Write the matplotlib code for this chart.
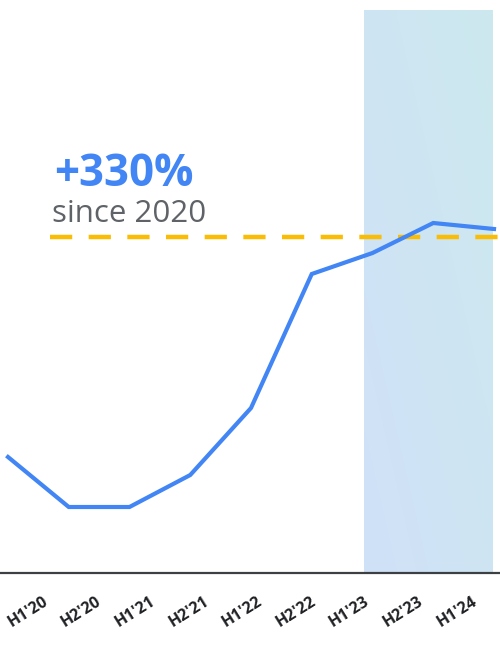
import numpy as np
import matplotlib.pyplot as plt
from matplotlib.colors import to_rgb

plt.rcParams['font.family'] = ['Open Sans', 'DejaVu Sans']

# half-year periods and the index value for each one
periods = ["H1'20", "H2'20", "H1'21", "H2'21", "H1'22", "H2'22", "H1'23", "H2'23", "H1'24"]
values = [116, 66, 66, 98, 165, 299, 320, 350, 344]
reference_level = 336          # dashed "+330% since 2020" level
highlight = (5.86, 7.98)       # shaded range (period index)
highlight_top = 563

blue = '#4285f4'
yellow = '#fbbc04'

fig = plt.figure(figsize=(5, 6.45), dpi=100)
ax = fig.add_axes([0, 72 / 645, 1, 573 / 645])

x = np.arange(len(values))
ax.set_xlim(-8 / 60.75, 492 / 60.75)
ax.set_ylim(0, 573)

# diagonal gradient for the highlighted range: teal top-right, blue bottom-left
c_tr = np.array(to_rgb('#cce9ee'))
c_bl = np.array(to_rgb('#d0e1f8'))
gx, gy = np.meshgrid(np.linspace(0, 1, 64), np.linspace(0, 1, 64))
t = ((1 - gx) + gy) / 2
grad = c_tr * (1 - t[..., None]) + c_bl * t[..., None]
ax.imshow(grad, extent=[highlight[0], highlight[1], 0, highlight_top],
          aspect='auto', origin='upper', interpolation='bilinear', zorder=0)

ax.axhline(reference_level, xmin=50 / 500, xmax=1, color=yellow, lw=3.2,
           dashes=(5, 3.7), zorder=1)
ax.plot(x, values, color=blue, lw=3.0, solid_joinstyle='miter', zorder=3)

ax.text(0.76, 387, '+330%', color=blue, fontsize=31.5, fontweight='bold',
        va='baseline', ha='left')
ax.text(0.72, 351, 'since 2020', color='#5f6368', fontsize=22.5,
        va='baseline', ha='left')

for s in ['top', 'left', 'right']:
    ax.spines[s].set_visible(False)
ax.spines['bottom'].set_color('#3c4043')
ax.spines['bottom'].set_linewidth(1.6)
ax.set_xticks([])
ax.set_yticks([])

# period labels sit on their own evenly spaced scale
ax2 = ax.twiny()
ax2.set_xlim(-28 / 53.6, 472 / 53.6)
ax2.xaxis.tick_bottom()
ax2.set_xticks(np.arange(len(periods)))
ax2.set_xticklabels(periods, rotation=32, fontsize=11.5, fontweight='bold',
                    color='#202124')
ax2.tick_params(axis='x', length=0, pad=15)
for s in ax2.spines.values():
    s.set_visible(False)

fig.savefig('out.png', dpi=100)
